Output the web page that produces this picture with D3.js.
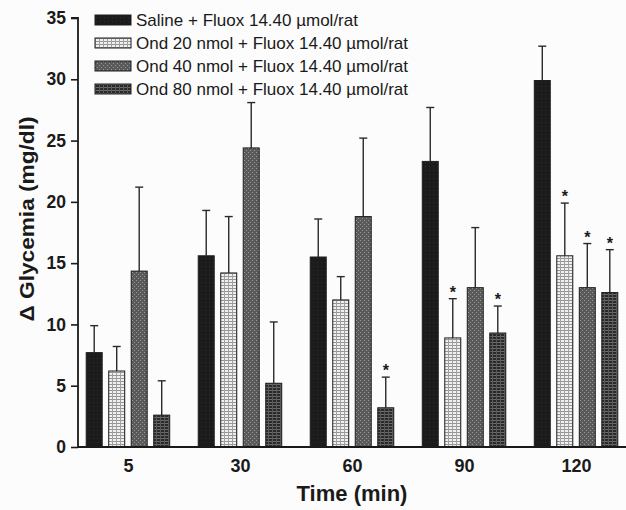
<!DOCTYPE html>
<html>
<head>
<meta charset="utf-8">
<script src="https://cdn.jsdelivr.net/npm/d3@7"></script>
<style>
  body { margin: 0; background: #fcfcfc; }
  text { font-family: "Liberation Sans", Arial, sans-serif; fill: #1a1a1a; }
</style>
</head>
<body>
<svg id="chart" width="626" height="510"></svg>
<script>
// time points (min)
const times = ["5", "30", "60", "90", "120"];
const series = ["Saline + Fluox 14.40 \u00b5mol/rat",
                "Ond 20 nmol + Fluox 14.40 \u00b5mol/rat",
                "Ond 40 nmol + Fluox 14.40 \u00b5mol/rat",
                "Ond 80 nmol + Fluox 14.40 \u00b5mol/rat"];
// mean values, one array per series (same order as times)
const saline = [7.7, 15.6, 15.5, 23.3, 29.9];
const ond20  = [6.2, 14.2, 12.0, 8.9, 15.6];
const ond40  = [14.35, 24.4, 18.8, 13.0, 13.0];
const ond80  = [2.6, 5.2, 3.2, 9.3, 12.6];
// upper end of the error bar
const salineErr = [9.9, 19.3, 18.6, 27.7, 32.7];
const ond20Err  = [8.2, 18.8, 13.9, 12.1, 19.9];
const ond40Err  = [21.2, 28.1, 25.2, 17.9, 16.6];
const ond80Err  = [5.4, 10.2, 5.7, 11.5, 16.1];
// significance marks
const ond20Sig = [false, false, false, true, true];
const ond40Sig = [false, false, false, false, true];
const ond80Sig = [false, false, true, true, true];
const yTicks = [0, 5, 10, 15, 20, 25, 30, 35];

const svg = d3.select("#chart");
const x0 = 78, x1 = 626, yBase = 447, yTop = 18;

const x = d3.scalePoint().domain(times).range([x0, x1]).padding(0.446);
const xs = d3.scaleBand().domain(d3.range(4)).range([-41.75, 41.75]).paddingInner(0.289);
const y = d3.scaleLinear().domain([0, 35]).range([yBase, yTop]);

// bar fills
const defs = svg.append("defs");
let p = defs.append("pattern").attr("id", "p0").attr("patternUnits", "userSpaceOnUse")
  .attr("width", 4).attr("height", 4);
p.append("rect").attr("width", 4).attr("height", 4).attr("fill", "#1b1b1b");
p.append("rect").attr("x", 1).attr("y", 2).attr("width", 1).attr("height", 1).attr("fill", "#2e2e2e");

p = defs.append("pattern").attr("id", "p1").attr("patternUnits", "userSpaceOnUse")
  .attr("width", 4).attr("height", 3);
p.append("rect").attr("width", 4).attr("height", 3).attr("fill", "#f0f0f0");
p.append("rect").attr("width", 4).attr("height", 1).attr("fill", "#959595");
p.append("rect").attr("width", 1).attr("height", 3).attr("fill", "#a0a0a0");

p = defs.append("pattern").attr("id", "p2").attr("patternUnits", "userSpaceOnUse")
  .attr("width", 4).attr("height", 4);
p.append("rect").attr("width", 4).attr("height", 4).attr("fill", "#5a5a5a");
p.append("rect").attr("x", 0).attr("y", 0).attr("width", 1).attr("height", 1).attr("fill", "#9a9a9a");
p.append("rect").attr("x", 2).attr("y", 2).attr("width", 1).attr("height", 1).attr("fill", "#949494");

p = defs.append("pattern").attr("id", "p3").attr("patternUnits", "userSpaceOnUse")
  .attr("width", 4).attr("height", 3);
p.append("rect").attr("width", 4).attr("height", 3).attr("fill", "#2a2a2a");
p.append("rect").attr("width", 4).attr("height", 1).attr("fill", "#6a6a6a");
p.append("rect").attr("width", 1).attr("height", 3).attr("fill", "#5a5a5a");

const vals = [saline, ond20, ond40, ond80];
const errs = [salineErr, ond20Err, ond40Err, ond80Err];
const sigs = [null, ond20Sig, ond40Sig, ond80Sig];

const rows = [];
times.forEach((t, i) => {
  vals.forEach((v, s) => {
    rows.push({t: t, s: s, v: v[i], e: errs[s][i], sig: sigs[s] ? sigs[s][i] : false});
  });
});

const bx = d => x(d.t) + xs(d.s);
const bw = xs.bandwidth();

// error bars (upper whisker only)
const eb = svg.append("g").attr("stroke", "#2a2a2a").attr("stroke-width", 1.4);
eb.selectAll(".w").data(rows).join("line")
  .attr("x1", d => bx(d) + bw / 2).attr("x2", d => bx(d) + bw / 2)
  .attr("y1", d => y(d.v)).attr("y2", d => y(d.e));
eb.selectAll(".c").data(rows).join("line")
  .attr("x1", d => bx(d) + bw / 2 - 4).attr("x2", d => bx(d) + bw / 2 + 4)
  .attr("y1", d => y(d.e)).attr("y2", d => y(d.e));

// bars
svg.append("g").selectAll("rect").data(rows).join("rect")
  .attr("x", bx).attr("width", bw)
  .attr("y", d => y(d.v)).attr("height", d => yBase - y(d.v))
  .attr("fill", d => "url(#p" + d.s + ")")
  .attr("stroke", "#1e1e1e").attr("stroke-width", 1);

// asterisks
svg.append("g").selectAll("text").data(rows.filter(d => d.sig)).join("text")
  .attr("x", d => bx(d) + bw / 2).attr("y", d => y(d.e) - 1)
  .attr("text-anchor", "middle").attr("font-size", 16).attr("font-weight", "bold")
  .text("*");

// y axis
const yAxis = svg.append("g").attr("transform", `translate(${x0},0)`)
  .call(d3.axisLeft(y).tickValues(yTicks).tickSize(7).tickPadding(5));
yAxis.select(".domain").attr("d", `M-7,${yTop}H0V${yBase}`).attr("stroke", "#1a1a1a").attr("stroke-width", 1.8);
yAxis.selectAll(".tick line").attr("stroke", "#1a1a1a").attr("stroke-width", 1.6);
yAxis.selectAll(".tick text").attr("font-size", 17.5).attr("font-weight", "bold")
  .attr("font-family", "'Liberation Sans', Arial, sans-serif").attr("fill", "#1a1a1a");

// x axis
const xAxis = svg.append("g").attr("transform", `translate(0,${yBase})`)
  .call(d3.axisBottom(x).tickSize(0).tickPadding(12));
xAxis.select(".domain").attr("d", `M${x0},0H${x1}`).attr("stroke", "#1a1a1a").attr("stroke-width", 1.8);
xAxis.selectAll(".tick text").attr("font-size", 18).attr("font-weight", "bold")
  .attr("font-family", "'Liberation Sans', Arial, sans-serif").attr("fill", "#1a1a1a");

// axis titles
svg.append("text").attr("x", 352).attr("y", 501).attr("text-anchor", "middle")
  .attr("font-size", 22).attr("font-weight", "bold").text("Time (min)");
svg.append("text").attr("transform", "translate(34,219) rotate(-90)")
  .attr("text-anchor", "middle").attr("font-size", 21).attr("font-weight", "bold")
  .attr("textLength", 205).attr("lengthAdjust", "spacingAndGlyphs")
  .text("\u0394 Glycemia (mg/dl)");

// legend
const lg = svg.append("g").selectAll("g").data(series).join("g")
  .attr("transform", (d, i) => `translate(95,${15 + i * 23})`);
lg.append("rect").attr("width", 36).attr("height", 10)
  .attr("fill", (d, i) => "url(#p" + i + ")").attr("stroke", "#1e1e1e").attr("stroke-width", 1);
lg.append("text").attr("x", 41).attr("y", 11).attr("font-size", 17).text(d => d);
</script>
</body>
</html>
